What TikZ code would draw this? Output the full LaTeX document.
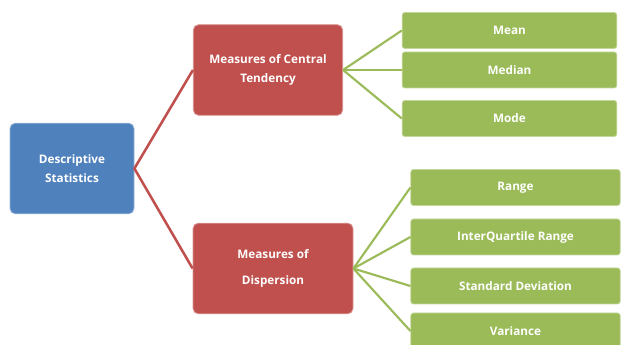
\documentclass[tikz,border=0pt]{standalone}
\usepackage{fontspec}
\setmainfont{Open Sans}
\usetikzlibrary{positioning}
\definecolor{dsBlue}{RGB}{79,129,189}
\definecolor{dsRed}{RGB}{192,80,77}
\definecolor{dsGreen}{RGB}{155,187,89}
\tikzset{
  statbox/.style={
    rounded corners=4pt,
    line width=0.6pt,
    text=white,
    align=center,
    inner sep=0pt,
    font=\fontsize{8.8}{14.3}\selectfont\bfseries
  },
  rootbox/.style={statbox, fill=dsBlue, draw=dsBlue!60!white,
    minimum width=93pt, minimum height=68pt},
  groupbox/.style={statbox, fill=dsRed, draw=dsRed!60!white,
    minimum height=68pt},
  leafbox/.style={statbox, fill=dsGreen, draw=dsGreen!60!white,
    rounded corners=2pt, minimum height=27pt},
  redlink/.style={draw=dsRed, line width=1.9pt},
  greenlink/.style={draw=dsGreen, line width=1.6pt}
}

\begin{document}
\begin{tikzpicture}[x=0.75pt,y=-0.75pt]
  \useasboundingbox (0,0) rectangle (621,345);
  % root
  \node[rootbox] (desc) at (72,168.5) {Descriptive\\Statistics};
  % groups
  \node[groupbox, minimum width=112pt] (central) at (268,70) {Measures of Central\\Tendency};
  \node[groupbox, minimum width=120pt,
        font=\fontsize{8.8}{20}\selectfont\bfseries] (disp) at (273,268.5) {Measures of\\Dispersion};
  % central tendency leaves
  \node[leafbox, minimum width=161pt] (mean) at (509.5,30.5) {Mean};
  \node[leafbox, minimum width=161pt] (median) at (509.5,70) {Median};
  \node[leafbox, minimum width=161pt] (mode) at (509.5,118.5) {Mode};
  % dispersion leaves
  \node[leafbox, minimum width=157pt] (range) at (515.5,187.5) {Range};
  \node[leafbox, minimum width=157pt] (iqr) at (515.5,237) {InterQuartile Range};
  \node[leafbox, minimum width=157pt] (sd) at (515.5,286) {Standard Deviation};
  \node[leafbox, minimum width=157pt] (var) at (515.5,331) {Variance};
  % links
  \draw[redlink] (central.west) -- (desc.east) -- (disp.west);
  \foreach \leaf in {mean,median,mode}
    \draw[greenlink] (central.east) -- (\leaf.west);
  \foreach \leaf in {range,iqr,sd,var}
    \draw[greenlink] (disp.east) -- (\leaf.west);
\end{tikzpicture}
\end{document}
